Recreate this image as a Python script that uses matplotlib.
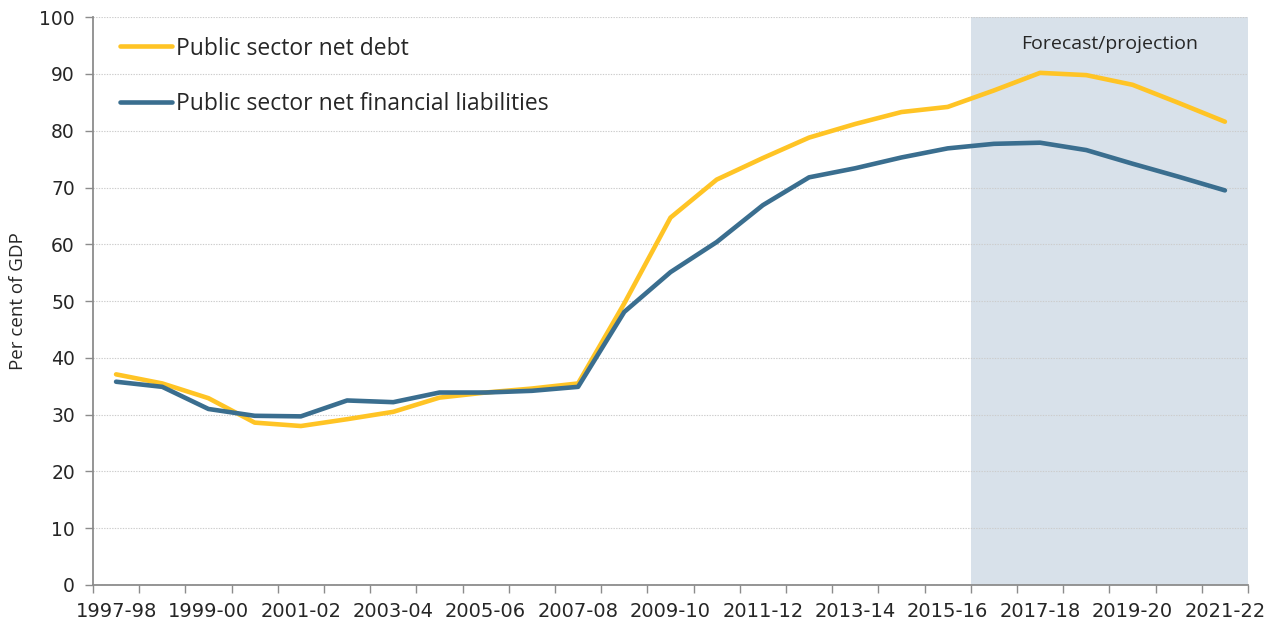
import matplotlib
matplotlib.use("Agg")
import matplotlib.pyplot as plt
from matplotlib.ticker import FixedLocator

plt.rcParams['font.family'] = ['Open Sans', 'DejaVu Sans']

years = ["1997-98", "1998-99", "1999-00", "2000-01", "2001-02", "2002-03",
         "2003-04", "2004-05", "2005-06", "2006-07", "2007-08", "2008-09",
         "2009-10", "2010-11", "2011-12", "2012-13", "2013-14", "2014-15",
         "2015-16", "2016-17", "2017-18", "2018-19", "2019-20", "2020-21",
         "2021-22"]

psnd = [37.1, 35.5, 32.9, 28.6, 28.0, 29.2, 30.5, 33.0, 33.9, 34.6, 35.5,
        49.6, 64.7, 71.4, 75.2, 78.8, 81.2, 83.3, 84.2, 87.1, 90.2, 89.8,
        88.1, 84.9, 81.6]

psnfl = [35.8, 34.9, 31.0, 29.8, 29.7, 32.5, 32.2, 33.9, 33.9, 34.2, 34.9,
         48.1, 55.1, 60.4, 66.9, 71.8, 73.4, 75.3, 76.9, 77.7, 77.9, 76.6,
         74.2, 71.9, 69.5]

series_names = ["Public sector net debt", "Public sector net financial liabilities"]
forecast_start = "2016-17"
forecast_label = "Forecast/projection"
y_label = "Per cent of GDP"

yellow = "#FFC425"
blue = "#3A6E8F"
shade = "#D8E1EA"
text_col = "#262626"
axis_col = "#8C8C8C"
tick_font = "DejaVu Sans"

fig = plt.figure(figsize=(12.77, 6.26), dpi=100)
ax = fig.add_axes([0.0728, 0.0655, 0.9045, 0.907])

x = list(range(len(years)))
fs = years.index(forecast_start)
ax.axvspan(fs - 0.5, len(years) - 0.5, color=shade, lw=0, zorder=0)

ax.plot(x, psnd, color=yellow, lw=3.3, solid_capstyle='round',
        solid_joinstyle='round', label=series_names[0], zorder=3)
ax.plot(x, psnfl, color=blue, lw=3.3, solid_capstyle='round',
        solid_joinstyle='round', label=series_names[1], zorder=3)

ax.set_xlim(-0.5, len(years) - 0.5)
ax.set_ylim(0, 100)

# y axis
ax.set_yticks(range(0, 101, 10))
ax.tick_params(axis='y', direction='out', length=6, width=1, color=axis_col,
               labelsize=13.5, labelcolor=text_col, pad=7)
for lbl in ax.get_yticklabels():
    lbl.set_family(tick_font)
ax.yaxis.grid(True, linestyle=(0, (1.2, 1.2)), color="#CCCCCC", lw=0.8)
ax.set_axisbelow(True)
ax.set_ylabel(y_label, fontsize=13.5, color=text_col, labelpad=9)

# x axis: ticks at category boundaries, labels at alternate category centres
ax.xaxis.set_major_locator(FixedLocator([i - 0.5 for i in range(len(years) + 1)]))
ax.xaxis.set_major_formatter(plt.NullFormatter())
ax.tick_params(axis='x', which='major', direction='out', length=6, width=1,
               color=axis_col)
label_pos = x[::2]
ax.xaxis.set_minor_locator(FixedLocator(label_pos))
ax.set_xticklabels([years[i] for i in label_pos], minor=True,
                   family=tick_font)
ax.tick_params(axis='x', which='minor', length=0, labelsize=14,
               labelcolor=text_col, pad=12)

for side in ("top", "right"):
    ax.spines[side].set_visible(False)
for side in ("left", "bottom"):
    ax.spines[side].set_color(axis_col)
    ax.spines[side].set_linewidth(1.3)

ax.text((fs - 0.5 + len(years) - 0.5) / 2, 95.3, forecast_label,
        ha='center', va='center', fontsize=14, color=text_col)

leg = ax.legend(loc='upper left', frameon=False, fontsize=16.5,
                handlelength=2.25, handletextpad=0.2, labelspacing=1.36,
                borderpad=0, borderaxespad=0, bbox_to_anchor=(0.0234, 0.966))
for t in leg.get_texts():
    t.set_color(text_col)

fig.savefig("out.png", dpi=100)
